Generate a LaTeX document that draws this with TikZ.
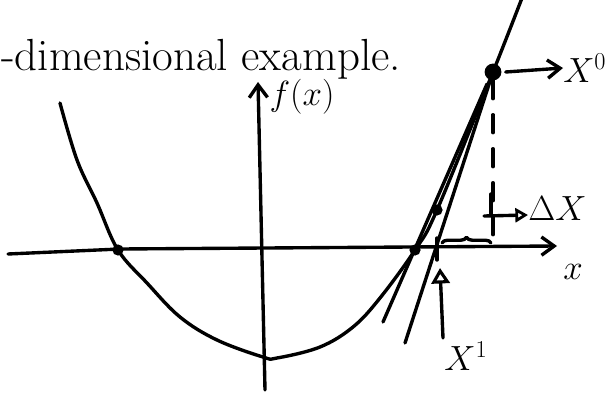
\documentclass[tikz,border=0pt]{standalone}
\usetikzlibrary{arrows.meta,decorations.pathreplacing}

\tikzset{
	pen/.style={line width=2.4pt, line cap=round, line join=round},
	bigdot/.style={circle, fill, inner sep=0pt, minimum size=.42cm},
	smalldot/.style={circle, fill, inner sep=0pt, minimum size=.28cm},
	barb/.style={-{Straight Barb[length=9pt, width=13pt]}},
	tri/.style={-{Triangle[open, length=9pt, width=10pt, line width=2pt]}},
	bigtri/.style={-{Triangle[open, length=11pt, width=13pt, line width=2.2pt]}},
	lbl/.style={inner sep=0pt, font=\fontsize{27}{32}\selectfont},
}

\begin{document}
\begin{tikzpicture}[x=.025cm, y=-.025cm]
		\useasboundingbox (0,0) rectangle (605,393);
		\node[anchor=west, inner sep=0pt, font=\fontsize{32}{37}\selectfont] (title) at (1,59) {-dimensional example.};
		% axes
		\coordinate (xl) at (8,254);
		\coordinate (xm) at (120,249);
		\coordinate (xr) at (557,246);
		\coordinate (yb) at (265,390);
		\coordinate (yt) at (258,82);
		\draw[pen, barb] (xl) -- (xm) -- (xr);
		\draw[pen, barb] (yb) -- (yt);
		\node[lbl, font=\fontsize{24}{28}\selectfont] (fx) at (302,97) {\(f(x)\)};
		\node[lbl, font=\fontsize{25}{30}\selectfont] (xx) at (573,272) {\(x\)};
		% the function
		\draw[pen] plot[smooth, tension=.6] coordinates {(60,103) (77,160) (97,203) (118,250) (147,283) (180,317) (217,340) (263,357) (277,358) (320,347) (353,327) (380,298) (415,250) (437,210) (493,72) (522,-2)};
		\node[smalldot] (r1) at (118,250) {};
		\node[smalldot] (r2) at (415,250) {};
		\node[smalldot] (p1) at (437,210) {};
		\node[bigdot] (p0) at (493,72) {};
		% tangent lines
		\coordinate (t0) at (405,343);
		\draw[pen] (p0.center) -- (t0);
		\coordinate (t1a) at (383,322);
		\coordinate (t1b) at (487,84);
		\draw[pen] (t1a) -- (t1b);
		% x0 and x1 on the axis
		\coordinate (x0) at (493,246);
		\draw[pen, dash pattern=on .45cm off .4cm] (p0) -- (x0);
		\coordinate (x1a) at (437,238);
		\coordinate (x1b) at (437,260);
		\draw[pen] (x1a) -- (x1b);
		\coordinate (bl) at (442,243);
		\coordinate (br) at (491,243);
		\draw[pen, decorate, decoration={brace, amplitude=4pt}] (bl) -- (br);
		% labels
		\node[lbl, anchor=west] (lx0) at (563,68) {\(X^0\)};
		\draw[pen, barb] (p0.east) ++(4,0) -- (lx0.west);
		\node[lbl] (lx1) at (466,356) {\(X^1\)};
		\coordinate (a1) at (443,338);
		\coordinate (a1top) at (440,268);
		\draw[pen, bigtri] (a1) -- (a1top);
		\node[lbl, font=\fontsize{23}{28}\selectfont, anchor=west] (ldx) at (528,209) {\(\Delta X\)};
		\coordinate (dxa) at (491,194);
		\coordinate (dxb) at (491,215);
		\coordinate (dxt) at (484,216);
		\draw[pen] (dxa) -- (dxb);
		\draw[pen, tri] (dxt) -- (ldx.west |- dxb);
	\end{tikzpicture}
\end{document}
